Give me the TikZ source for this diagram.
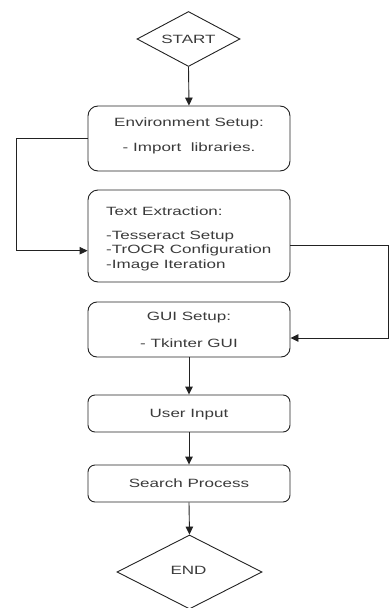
\documentclass[tikz,border=0pt]{standalone}
\usepackage{fontspec}
\newfontfamily\wf{Liberation Sans}[FakeStretch=1.42]
\usetikzlibrary{shapes.geometric,arrows.meta}
\definecolor{txt}{HTML}{3A3A3A}
\definecolor{ln}{HTML}{222222}
\begin{document}
\begin{tikzpicture}[x=1pt,y=-1pt,
  every node/.style={font=\wf\fontsize{12}{14}\selectfont, text=txt},
  box/.style={draw=ln, line width=0.9pt, minimum width=202pt, inner sep=0pt},
  dia/.style={draw=ln, line width=0.9pt, shape=diamond, aspect=2, inner sep=0pt},
  lab/.style={inner sep=0pt, anchor=base},
  labl/.style={inner sep=0pt, anchor=base west},
  conn/.style={draw=ln, line width=0.9pt, -{Triangle[length=8pt,width=7.5pt]}}
]
\useasboundingbox (0,0) rectangle (390,608);
% shapes
\node[dia, minimum width=103pt, minimum height=55pt] (start) at (188.5,39) {START};
\node[box, rounded corners=10pt, minimum height=65pt] (env) at (189,138.5) {};
\node[box, rounded corners=10pt, minimum height=92pt] (te) at (189,236) {};
\node[box, rounded corners=9pt, minimum height=55pt] (gui) at (189,329.5) {};
\node[box, rounded corners=7pt, minimum height=37pt] (user) at (189,413.5) {};
\node[box, rounded corners=7pt, minimum height=37pt] (search) at (189,483.5) {};
\node[dia, minimum width=145pt, minimum height=74pt] (end) at (189.5,572) {};
% texts
\node[lab] (envA) at (189,126) {Environment Setup:};
\node[lab] (envB) at (189,151.7) {- Import\ \ libraries.};
\node[labl] (teA) at (106,215) {Text Extraction:};
\node[labl] (teB) at (106,239.3) {-Tesseract Setup};
\node[labl] (teC) at (106,253.8) {-TrOCR Configuration};
\node[labl] (teD) at (106,268.3) {-Image Iteration};
\node[lab] (guiA) at (189,320.5) {GUI Setup:};
\node[lab] (guiB) at (189,347) {- Tkinter GUI};
\node[lab] (userA) at (189,417.3) {User Input};
\node[lab] (searchA) at (189,487.3) {Search Process};
\node[lab] (endA) at (188.5,574.3) {END};
% connectors
\coordinate (l1) at (16,138.5);
\coordinate (l2) at (16,250.7);
\coordinate (r1) at (388.5,245);
\coordinate (r2) at (388.5,338);
\draw[conn] (start.south) -- (env.north);
\draw[conn] (env.west) -- (l1) -- (l2) -- (l2 -| te.west);
\draw[conn] (r1 -| te.east) -- (r1) -- (r2) -- (r2 -| gui.east);
\draw[conn] (gui.south) -- (user.north);
\draw[conn] (user.south) -- (search.north);
\draw[conn] (search.south) -- (end.north);
\end{tikzpicture}
\end{document}
